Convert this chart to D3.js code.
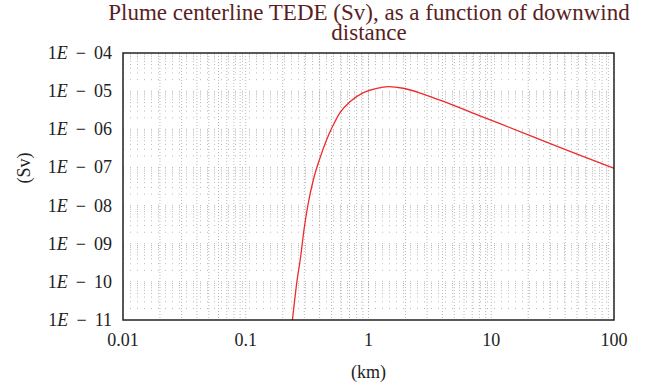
<!DOCTYPE html>
<html lang="en">
<head>
<meta charset="utf-8">
<title>Plume centerline TEDE</title>
<script src="https://cdn.jsdelivr.net/npm/d3@7"></script>
<style>
  body { margin: 0; background: #fff; }
  svg { display: block; font-family: "Liberation Serif", "DejaVu Serif", serif; }
</style>
</head>
<body>
<svg width="645" height="387"></svg>
<script>
    // downwind distance (km) and TEDE (Sv)
    var distance = [0.240, 0.260, 0.280, 0.298, 0.323, 0.355, 0.403, 0.456, 0.501, 0.586, 0.706, 0.908, 1.17, 1.45, 1.92, 2.79, 4.34, 6.93, 11.8, 22.0, 41.2, 100];
    var tede = [1e-11, 9.16e-11, 4.56e-10, 2.29e-9, 1.15e-8, 4.68e-8, 1.78e-7, 5.30e-7, 1.06e-6, 2.75e-6, 5.28e-6, 9.1e-6, 1.19e-5, 1.31e-5, 1.19e-5, 8.41e-6, 4.98e-6, 2.75e-6, 1.40e-6, 6.35e-7, 2.86e-7, 9.5e-8];
    var xTicks = [0.01, 0.1, 1, 10, 100];
    var yTicks = [1e-4, 1e-5, 1e-6, 1e-7, 1e-8, 1e-9, 1e-10, 1e-11];
    var yTickLabels = ["04", "05", "06", "07", "08", "09", "10", "11"];

    var svg = d3.select("svg");
    var pLeft = 123, pRight = 614, pTop = 53, pBottom = 320;

    var x = d3.scaleLog().domain([0.01, 100]).range([pLeft, pRight]);
    var y = d3.scaleLog().domain([1e-11, 1e-4]).range([pBottom, pTop]);

    // minor grid values
    var xGrid = [], yGrid = [];
    for (var e = -2; e < 2; e++)
        for (var m = 1; m < 10; m++) xGrid.push(m * Math.pow(10, e));
    for (var e2 = -11; e2 < -4; e2++)
        for (var m2 = 1; m2 < 10; m2++) yGrid.push(m2 * Math.pow(10, e2));

    var grid = svg.append("g").attr("class", "grid");
    grid.selectAll("line.v")
        .data(xGrid.filter(function(d) { return d > 0.0100001; }))
        .enter().append("line")
        .attr("x1", function(d) { return x(d); })
        .attr("x2", function(d) { return x(d); })
        .attr("y1", pTop).attr("y2", pBottom)
        .attr("stroke", "#999")
        .attr("stroke-width", 0.7)
        .attr("stroke-dasharray", "1,2");
    grid.selectAll("line.h")
        .data(yGrid.filter(function(d) { return d > 1.00001e-11; }))
        .enter().append("line")
        .attr("x1", pLeft).attr("x2", pRight)
        .attr("y1", function(d) { return y(d); })
        .attr("y2", function(d) { return y(d); })
        .attr("stroke", "#999")
        .attr("stroke-width", 0.7)
        .attr("stroke-dasharray", "1,6");

    // curve
    var line = d3.line()
        .x(function(d, i) { return x(distance[i]); })
        .y(function(d, i) { return y(tede[i]); })
        .curve(d3.curveMonotoneX);

    svg.append("path")
        .datum(distance)
        .attr("d", line)
        .attr("fill", "none")
        .attr("stroke", "#ee2a2a")
        .attr("stroke-width", 1.3);

    // frame
    svg.append("rect")
        .attr("x", pLeft).attr("y", pTop)
        .attr("width", pRight - pLeft).attr("height", pBottom - pTop)
        .attr("fill", "none")
        .attr("stroke", "#222")
        .attr("stroke-width", 1.5);

    // x tick labels
    svg.append("g").selectAll("text")
        .data(xTicks)
        .enter().append("text")
        .attr("x", function(d) { return x(d); })
        .attr("y", 346)
        .attr("text-anchor", "middle")
        .attr("font-size", 18)
        .attr("fill", "#222")
        .text(function(d) { return d; });

    // y tick labels
    var yl = svg.append("g").selectAll("text")
        .data(yTicks)
        .enter().append("text")
        .attr("x", 112)
        .attr("y", function(d) { return y(d) + 6; })
        .attr("text-anchor", "end")
        .attr("font-size", 18)
        .attr("fill", "#222");
    yl.append("tspan").text("1");
    yl.append("tspan").attr("font-style", "italic").text("E");
    yl.append("tspan").text(function(d, i) { return " \u2009\u2212 \u2009" + yTickLabels[i]; });

    // axis titles
    svg.append("text")
        .attr("x", (pLeft + pRight) / 2).attr("y", 378)
        .attr("text-anchor", "middle")
        .attr("font-size", 18)
        .attr("fill", "#222")
        .text("(km)");
    svg.append("text")
        .attr("transform", "translate(30,168) rotate(-90)")
        .attr("text-anchor", "middle")
        .attr("font-size", 18)
        .attr("fill", "#222")
        .text("(Sv)");

    // title
    svg.append("text")
        .attr("x", 369).attr("y", 20)
        .attr("text-anchor", "middle")
        .attr("font-size", 23)
        .attr("fill", "#5a1f1f")
        .text("Plume centerline TEDE (Sv), as a function of downwind");
    svg.append("text")
        .attr("x", 369).attr("y", 40)
        .attr("text-anchor", "middle")
        .attr("font-size", 23)
        .attr("fill", "#5a1f1f")
        .text("distance");
</script>
</body>
</html>
